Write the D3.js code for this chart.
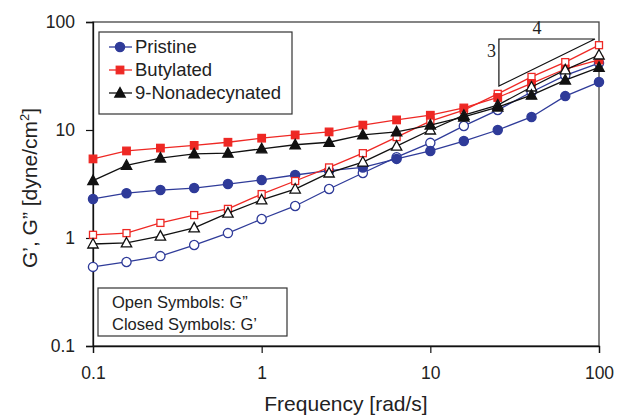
<!DOCTYPE html>
<html>
<head>
<meta charset="utf-8">
<script src="https://cdn.jsdelivr.net/npm/d3@7"></script>
<style>
  body { margin: 0; background: #fff; }
  svg { font-family: "Liberation Sans", Arial, sans-serif; }
</style>
</head>
<body>
<svg id="chart" width="617" height="416"></svg>
<script>
// frequencies [rad/s], 5 points per decade
const freq = [0.1, 0.158, 0.251, 0.398, 0.631, 1, 1.58, 2.51, 3.98, 6.31, 10, 15.8, 25.1, 39.8, 63.1, 100];

// moduli [dyne/cm2]
const pristineGp = [2.3, 2.6, 2.78, 2.9, 3.16, 3.45, 3.83, 4.2, 4.5, 5.4, 6.4, 7.9, 10, 13.2, 20.6, 27.8];
const pristineGpp = [0.54, 0.6, 0.68, 0.86, 1.11, 1.5, 1.98, 2.84, 4.0, 5.6, 7.6, 10.9, 15.3, 22.5, 32, 41.7];
const butylGp = [5.4, 6.4, 6.8, 7.2, 7.7, 8.4, 9.0, 9.6, 11.1, 12.4, 13.7, 16, 20, 27, 36.7, 44.5];
const butylGpp = [1.07, 1.11, 1.38, 1.63, 1.86, 2.55, 3.37, 4.5, 6.1, 8.6, 12.1, 15.3, 21.6, 31, 42.5, 61];
const nonaGp = [3.4, 4.7, 5.5, 6.0, 6.1, 6.7, 7.3, 7.7, 9.0, 9.6, 11.1, 13.2, 16.3, 21, 29, 38];
const nonaGpp = [0.88, 0.9, 1.04, 1.24, 1.7, 2.25, 2.84, 4.0, 5.05, 7.1, 10, 13.7, 17, 25, 36, 49.5];

const xTicks = [0.1, 1, 10, 100];
const yTicks = [0.1, 1, 10, 100];

// slope 3/4 guide triangle
const slopeX = [25.5, 94.6];
const slopeY = [25.5, 69.6];

const series = [
  { name: 'Pristine', color: '#2f3b99', shape: 'circle', gp: pristineGp, gpp: pristineGpp },
  { name: 'Butylated', color: '#ee2824', shape: 'square', gp: butylGp, gpp: butylGpp },
  { name: '9-Nonadecynated', color: '#111111', shape: 'triangle', gp: nonaGp, gpp: nonaGpp },
];

const margin = { top: 22, right: 18, bottom: 70, left: 93 };
const width = 617 - margin.left - margin.right;
const height = 416 - margin.top - margin.bottom;

const svg = d3.select('#chart');
const g = svg.append('g').attr('transform', `translate(${margin.left},${margin.top})`);

const x = d3.scaleLog().domain([0.1, 100]).range([0, width]);
const y = d3.scaleLog().domain([0.1, 100]).range([height, 0]);

const fmt = d => String(d);

// frame
g.append('rect')
  .attr('width', width)
  .attr('height', height)
  .style('fill', 'none')
  .style('stroke', '#444')
  .style('stroke-width', 1.3);

const xAxis = g.append('g')
  .attr('transform', `translate(0,${height})`)
  .call(d3.axisBottom(x).tickValues(xTicks).tickFormat(fmt).tickSize(7).tickPadding(14));
const yAxis = g.append('g')
  .call(d3.axisLeft(y).tickValues(yTicks).tickFormat(fmt).tickSize(7).tickPadding(11));

[xAxis, yAxis].forEach(ax => {
  ax.select('.domain').style('stroke', '#111').style('stroke-width', 1.3);
  ax.selectAll('.tick line').style('stroke', '#111').style('stroke-width', 1.2);
  ax.selectAll('.tick text')
    .style('font-family', '"Liberation Sans", Arial, sans-serif')
    .style('font-size', '17.5px')
    .style('fill', '#222');
});

// axis titles
svg.append('text')
  .attr('x', margin.left + width / 2)
  .attr('y', 411)
  .attr('text-anchor', 'middle')
  .style('font-size', '21px')
  .style('fill', '#222')
  .text('Frequency [rad/s]');

const yTitle = svg.append('text')
  .attr('transform', `translate(37,${margin.top + height / 2 + 4}) rotate(-90)`)
  .attr('text-anchor', 'middle')
  .style('font-size', '21px')
  .style('fill', '#222');
yTitle.append('tspan').text('G’, G” [dyne/cm');
yTitle.append('tspan').attr('dy', -8).style('font-size', '13px').text('2');
yTitle.append('tspan').attr('dy', 8).text(']');

// slope triangle
const tri = [[slopeX[0], slopeY[1]], [slopeX[1], slopeY[1]], [slopeX[0], slopeY[0]]];
g.append('path')
  .attr('d', d3.line().x(d => x(d[0])).y(d => y(d[1]))(tri) + 'Z')
  .style('fill', 'none')
  .style('stroke', '#111')
  .style('stroke-width', 1.2);
g.append('text')
  .attr('x', x(Math.sqrt(slopeX[0] * slopeX[1])) - 10)
  .attr('y', y(slopeY[1]) - 5)
  .attr('text-anchor', 'middle')
  .style('font-family', '"Liberation Serif", "Times New Roman", serif')
  .style('font-size', '18px')
  .style('fill', '#222')
  .text('4');
g.append('text')
  .attr('x', x(slopeX[0]) - 3)
  .attr('y', y(Math.sqrt(slopeY[0] * slopeY[1])) - 6)
  .attr('text-anchor', 'end')
  .style('font-family', '"Liberation Serif", "Times New Roman", serif')
  .style('font-size', '18px')
  .style('fill', '#222')
  .text('3');

// markers
function drawMarker(sel, shape, color, open) {
  const fill = open ? '#fff' : color;
  if (shape === 'circle') {
    sel.append('circle').attr('r', 4.6)
      .style('fill', fill).style('stroke', color).style('stroke-width', 1.3);
  } else if (shape === 'square') {
    const s = open ? 7 : 7.5;
    sel.append('rect').attr('x', -s / 2).attr('y', -s / 2).attr('width', s).attr('height', s)
      .style('fill', fill).style('stroke', color).style('stroke-width', 1.3);
  } else {
    sel.append('path').attr('d', 'M0,-5.5L5.2,4L-5.2,4Z')
      .style('fill', fill).style('stroke', color).style('stroke-width', 1.3);
  }
}

const line = d3.line().x((d, i) => x(freq[i])).y(d => y(d));

series.forEach(s => {
  [['gpp', true], ['gp', false]].forEach(([key, open]) => {
    const grp = g.append('g').attr('class', `series-${key}`);
    grp.append('path')
      .attr('d', line(s[key]))
      .style('fill', 'none')
      .style('stroke', s.color)
      .style('stroke-width', 1.3);
    grp.selectAll('.pt').data(s[key]).enter().append('g')
      .attr('class', 'pt')
      .attr('transform', (d, i) => `translate(${x(freq[i])},${y(d)})`)
      .each(function (d) { drawMarker(d3.select(this), s.shape, s.color, open); });
  });
});

// legend
const legend = svg.append('g').attr('transform', 'translate(99,32)');
legend.append('rect')
  .attr('width', 193).attr('height', 82)
  .style('fill', '#fff').style('stroke', '#333').style('stroke-width', 1.2);
series.forEach((s, i) => {
  const row = legend.append('g').attr('transform', `translate(0,${15 + i * 23})`);
  row.append('line').attr('x1', 10).attr('x2', 33)
    .style('stroke', s.color).style('stroke-width', 1.3);
  drawMarker(row.append('g').attr('transform', 'translate(21,0)'), s.shape, s.color, false);
  row.append('text').attr('x', 36).attr('dy', '0.35em')
    .style('font-size', '18.5px').style('fill', '#222').text(s.name);
});

// symbol note
const note = svg.append('g').attr('transform', 'translate(98,288)');
note.append('rect')
  .attr('width', 189).attr('height', 48)
  .style('fill', '#fff').style('stroke', '#333').style('stroke-width', 1.2);
['Open Symbols: G”', 'Closed Symbols: G’'].forEach((t, i) => {
  note.append('text').attr('x', 14).attr('y', 20 + i * 22)
    .style('font-size', '16.5px').style('fill', '#222').text(t);
});
</script>
</body>
</html>
